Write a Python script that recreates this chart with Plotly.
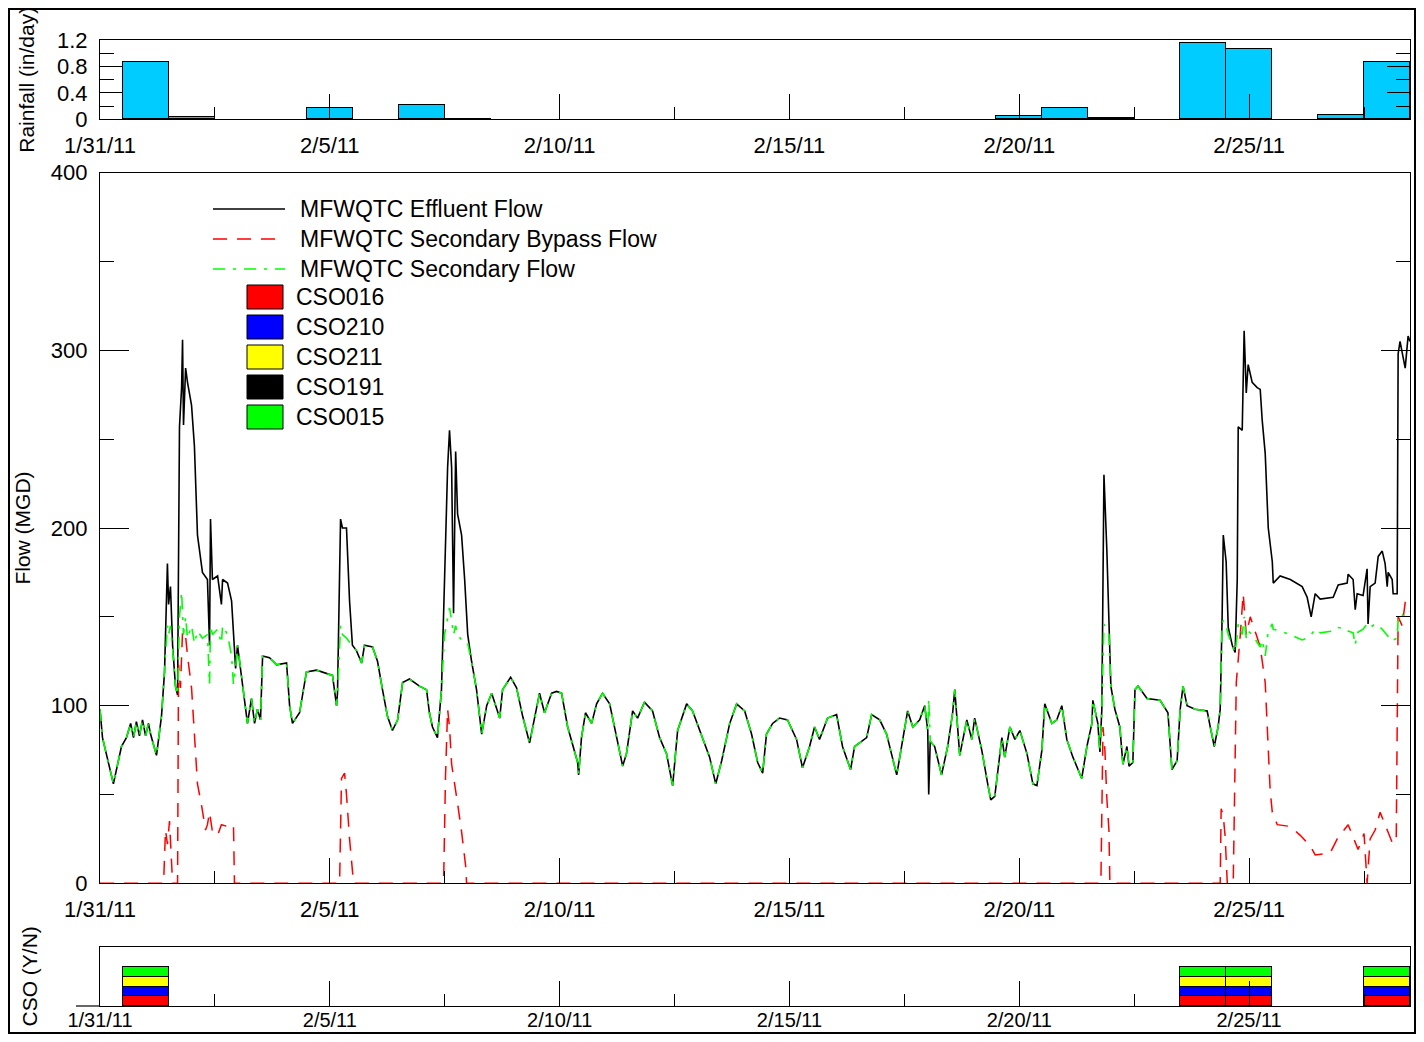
import pandas as pd
import plotly.graph_objects as go
from plotly.subplots import make_subplots

# ---------------- DATA ----------------
START = "2011-01-31 00:00"
END = "2011-02-28 12:00"

# elapsed hours since 1/31/11 00:00 for the flow records
hours = [
    0, 1.3, 7, 11.2, 13.8, 16, 17.5, 19, 20.6, 22.2,
    23.8, 25.3, 26.4, 27.4, 29.5, 32.1, 33.7, 35.2, 35.8, 36.8,
    37.9, 39.4, 40.5, 41.5, 42.6, 43.1, 43.6, 44.7, 45.7, 47.8,
    49.3, 50.9, 53.5, 56.1, 57.2, 57.7, 58.7, 61.4, 63.4, 64.0,
    66.6, 68.7, 69.7, 70.8, 71.8, 73.9, 75.5, 77.0, 79.1, 80.7,
    82.2, 83.8, 84.9, 88.5, 92.2, 97.4, 99.0, 100.5, 104.2, 107.8,
    113.1, 116.2, 121.4, 123.5, 124.0, 125.6, 126.6, 128.7, 130.3, 131.8,
    133.9, 136.6, 138.1, 142.3, 144.9, 147.5, 150.1, 152.7, 155.4, 158.0,
    161.6, 166.8, 170.5, 172.0, 173.6, 176.2, 178.3, 179.9, 181.5, 182.5,
    183.6, 184.6, 185.7, 186.7, 188.8, 190.4, 192.0, 194.0, 196.6, 199.3,
    201.9, 204.5, 208.7, 210.2, 214.4, 217.5, 220.7, 224.3, 226.9, 229.5,
    232.1, 235.8, 238.4, 241.0, 244.2, 249.4, 249.9, 251.4, 253.5, 256.7,
    259.3, 262.4, 266.1, 268.7, 272.9, 274.9, 278.1, 280.7, 284.3, 288.5,
    292.2, 295.8, 299.0, 301.6, 306.3, 309.4, 313.1, 318.3, 321.5, 324.6,
    328.8, 332.4, 336.6, 340.2, 343.4, 346.0, 348.0, 351.2, 354.8, 359.0,
    363.7, 366.8, 370.5, 373.1, 375.7, 379.9, 384.6, 387.7, 391.9, 394.0,
    400.3, 402.9, 407.1, 410.7, 416.0, 419.1, 421.7, 424.4, 428.0, 430.6,
    432.2, 432.7, 433.5, 435.8, 439.4, 442.6, 445.2, 446.3, 448.9, 452.6,
    455.2, 456.7, 460.4, 463.5, 465.1, 467.2, 468.8, 470.9, 472.4, 475.1,
    477.7, 480.3, 484.0, 487.1, 489.2, 491.8, 493.3, 497.0, 499.6, 502.2,
    504.8, 508.0, 512.6, 515.3, 517.9, 518.4, 521.0, 522.1, 523.1, 524.2,
    525.7, 526.8, 527.8, 529.9, 532.5, 534.1, 536.2, 537.3, 539.3, 540.4,
    542.0, 546.7, 553.5, 557.6, 559.7, 562.4, 564.0, 565.5, 567.6, 571.8,
    578.1, 579.7, 581.8, 583.8, 584.9, 585.9, 586.5, 588.0, 589.1, 591.2,
    592.7, 593.8, 594.3, 596.4, 596.9, 597.4, 598.5, 599.5, 601.6, 604.2,
    605.8, 606.8, 608.4, 610.0, 612.1, 612.6, 616.2, 621.5, 627.7, 630.3,
    632.4, 634.5, 637.1, 643.9, 646.5, 651.2, 651.7, 654.3, 655.4, 656.4,
    659.5, 661.6, 662.1, 663.2, 665.8, 667.4, 669.5, 671.0, 672.1, 672.6,
    674.7, 675.2, 677.3, 677.8, 678.8, 681.5, 683.0, 684.0,
]

effluent_flow = [
    98, 82, 56, 77, 82, 90, 82, 91, 83, 92,
    83, 90, 84, 80, 72, 94, 119, 180, 157, 167,
    134, 111, 106, 257, 279, 306, 258, 290, 282, 269,
    246, 196, 175, 171, 134, 205, 171, 173, 157, 171,
    169, 159, 138, 121, 134, 117, 103, 90, 104, 90,
    98, 92, 128, 127, 123, 124, 100, 90, 96, 119,
    120, 119, 117, 100, 107, 205, 200, 200, 159, 134,
    131, 124, 134, 133, 125, 109, 94, 86, 92, 113,
    115, 111, 109, 96, 88, 82, 109, 171, 234, 255,
    234, 152, 243, 208, 196, 171, 140, 125, 109, 84,
    100, 107, 93, 109, 116, 110, 94, 79, 92, 107,
    96, 107, 108, 107, 88, 68, 61, 82, 96, 90,
    101, 107, 101, 88, 66, 73, 97, 93, 102, 97,
    82, 73, 55, 86, 101, 97, 86, 71, 56, 69,
    90, 101, 97, 84, 68, 62, 84, 90, 93, 92,
    81, 65, 77, 88, 81, 93, 95, 77, 64, 77,
    82, 95, 92, 84, 61, 81, 97, 88, 92, 100,
    86, 50, 80, 77, 61, 77, 96, 109, 72, 92,
    81, 93, 75, 56, 47, 49, 62, 82, 71, 88,
    81, 86, 73, 56, 55, 75, 101, 90, 92, 100,
    81, 71, 59, 77, 90, 103, 90, 74, 98, 230,
    188, 154, 111, 98, 88, 67, 77, 66, 68, 109,
    111, 104, 103, 96, 64, 69, 98, 111, 100, 98,
    97, 88, 77, 88, 98, 150, 196, 181, 144, 134,
    130, 171, 257, 255, 276, 311, 276, 292, 282, 279,
    278, 261, 242, 200, 181, 169, 173, 171, 167, 161,
    150, 163, 160, 161, 168, 169, 174, 171, 154, 163,
    162, 177, 146, 167, 169, 184, 187, 180, 167, 175,
    171, 163, 163, 298, 305, 290, 308, 305,
]

secondary_flow = [
    98, 82, 56, 77, 82, 90, 82, 91, 83, 92,
    83, 90, 84, 80, 72, 94, 119, 145, 140, 145,
    132, 111, 106, 150, 164, 148, 140, 150, 138, 145,
    135, 142, 138, 140, 112, 145, 140, 143, 135, 145,
    140, 128, 112, 121, 134, 117, 103, 90, 104, 90,
    98, 92, 128, 127, 123, 124, 100, 90, 96, 119,
    120, 119, 117, 100, 107, 145, 140, 138, 136, 134,
    131, 124, 134, 133, 125, 109, 94, 86, 92, 113,
    115, 111, 109, 96, 88, 82, 109, 140, 150, 155,
    148, 140, 145, 140, 137, 135, 135, 125, 109, 84,
    100, 107, 93, 109, 116, 110, 94, 79, 92, 107,
    96, 107, 108, 107, 88, 68, 61, 82, 96, 90,
    101, 107, 101, 88, 66, 73, 97, 93, 102, 97,
    82, 73, 55, 86, 101, 97, 86, 71, 56, 69,
    90, 101, 97, 84, 68, 62, 84, 90, 93, 92,
    81, 65, 77, 88, 81, 93, 95, 77, 64, 77,
    82, 95, 92, 84, 61, 81, 97, 88, 92, 100,
    86, 104, 80, 77, 61, 77, 96, 109, 72, 92,
    81, 93, 75, 56, 47, 49, 62, 82, 71, 88,
    81, 86, 73, 56, 55, 75, 101, 90, 92, 100,
    81, 71, 59, 77, 90, 103, 90, 74, 98, 146,
    142, 140, 111, 98, 88, 67, 77, 66, 68, 109,
    111, 104, 103, 96, 64, 69, 98, 111, 100, 98,
    97, 88, 77, 88, 98, 146, 148, 145, 140, 134,
    130, 140, 146, 140, 144, 150, 138, 142, 140, 136,
    133, 137, 128, 142, 146, 143, 142, 140, 137, 138,
    140, 143, 141, 142, 144, 143, 142, 141, 134, 141,
    143, 146, 145, 144, 146, 145, 143, 141, 140, 139,
    139, 137, 138, 148, 152, 150, 152, 153,
]

bypass_hours = [
    0, 33.2, 34.2, 35.2, 36.3, 37.3, 37.9, 40.5, 41.0, 42.0,
    43.1, 44.7, 45.7, 47.8, 49.3, 50.9, 53.0, 55.1, 56.1, 57.2,
    58.7, 61.4, 63.4, 66.6, 69.7, 70.2, 125.1, 126.1, 127.7, 128.7,
    130.3, 132.4, 179.4, 180.4, 181.5, 182.5, 183.6, 185.1, 186.7, 188.8,
    190.9, 191.4, 522.6, 523.7, 524.7, 525.7, 526.8, 527.3, 584.9, 585.4,
    586.5, 587.5, 588.6, 591.7, 593.3, 595.4, 596.9, 598.5, 600.6, 603.7,
    605.8, 608.4, 609.5, 611.0, 612.1, 614.7, 621.5, 626.7, 631.9, 634.5,
    642.3, 646.0, 651.7, 653.8, 656.9, 660.0, 661.6, 663.2, 665.8, 668.4,
    671.0, 674.7, 676.8, 677.8, 679.9, 681.5, 684.0,
]

bypass_flow = [
    0, 0, 30, 22, 35, 10, 0, 0, 123, 110,
    142, 139, 128, 110, 84, 56, 44, 30, 33, 40,
    29, 27, 33, 32, 33, 0, 0, 59, 62, 50,
    25, 0, 0, 60, 98, 88, 67, 55, 45, 29,
    10, 0, 0, 88, 75, 48, 30, 0, 0, 42,
    38, 26, 0, 0, 113, 140, 163, 140, 150, 140,
    133, 113, 88, 52, 40, 33, 32, 27, 21, 16,
    17, 25, 33, 27, 19, 28, 0, 25, 30, 40,
    33, 23, 23, 150, 145, 158, 157,
]

rain_dates = ["2011-02-01", "2011-02-02", "2011-02-05", "2011-02-07", "2011-02-08",
              "2011-02-20", "2011-02-21", "2011-02-22", "2011-02-24", "2011-02-25",
              "2011-02-27", "2011-02-28"]
rain_in_per_day = [0.86, 0.025, 0.17, 0.215, 0.006,
                   0.046, 0.168, 0.012, 1.15, 1.07,
                   0.06, 0.864]

cso_dates = ["2011-02-01", "2011-02-24", "2011-02-25", "2011-02-28"]
cso016 = [1, 1, 1, 1]
cso210 = [1, 1, 1, 1]
cso211 = [1, 1, 1, 1]
cso191 = [0, 0, 0, 0]
cso015 = [1, 1, 1, 1]

line_names = ["MFWQTC Effluent Flow", "MFWQTC Secondary Bypass Flow", "MFWQTC Secondary Flow"]
cso_names = ["CSO016", "CSO210", "CSO211", "CSO191", "CSO015"]
cso_colors = ["#FF0000", "#0000FF", "#FFFF00", "#000000", "#00FF00"]

date_ticks_fmt = "%-m/%-d/%y"

# ---------------- STYLE / LAYOUT ----------------
FONT = "Liberation Sans, Arial, sans-serif"
BODY = 8                      # default page margin around the plot div
W, H = 1424 - 2 * BODY, 1042 - 2 * BODY
ML, MR, MT, MB = 92, 6, 32, 28
PW, PH = W - ML - MR, H - MT - MB


def px(xs):
    """screen x (page px) -> paper x"""
    return (xs - BODY - ML) / PW


def py(ys):
    """screen y (page px) -> paper y"""
    return (H - MB - (ys - BODY)) / PH


line_colors = ["#000000", "#FF0000", "#00FF00"]
line_dashes = ["solid", "14px,10px", "12px,8px,3px,8px"]

t0 = pd.Timestamp(START)
t_flow = t0 + pd.to_timedelta(hours, unit="h")
t_bypass = t0 + pd.to_timedelta(bypass_hours, unit="h")
DAY_MS = 86400000

fig = make_subplots(rows=3, cols=1, shared_xaxes=False, vertical_spacing=0.0)

# rainfall
fig.add_trace(go.Bar(x=rain_dates, y=rain_in_per_day, width=DAY_MS,
                     marker=dict(color="#00CCFF", line=dict(color="#000000", width=1)),
                     showlegend=False, name="Rainfall"), row=1, col=1)

# flows
fig.add_trace(go.Scatter(x=t_flow, y=effluent_flow, mode="lines", name=line_names[0],
                         line=dict(color=line_colors[0], width=1.6), showlegend=False), row=2, col=1)
fig.add_trace(go.Scatter(x=t_bypass, y=bypass_flow, mode="lines", name=line_names[1],
                         line=dict(color=line_colors[1], width=1.5, dash=line_dashes[1]),
                         showlegend=False), row=2, col=1)
fig.add_trace(go.Scatter(x=t_flow, y=secondary_flow, mode="lines", name=line_names[2],
                         line=dict(color=line_colors[2], width=1.6, dash=line_dashes[2]),
                         showlegend=False), row=2, col=1)

# CSO stacked
for name, vals, col in zip(cso_names, [cso016, cso210, cso211, cso191, cso015], cso_colors):
    fig.add_trace(go.Bar(x=cso_dates, y=vals, width=DAY_MS, name=name,
                         marker=dict(color=col, line=dict(color="#000000", width=1)),
                         showlegend=False), row=3, col=1)

fig.update_layout(barmode="stack", bargap=0)

tickfont = dict(family=FONT, size=22, color="#000000")
titlefont = dict(family=FONT, size=21, color="#000000")


def xaxis_style(font_size, standoff):
    return dict(type="date", range=[START, END], tickformat=date_ticks_fmt,
                tick0="2011-01-31", dtick=5 * DAY_MS, ticks="inside", ticklen=25,
                tickcolor="#000000", tickwidth=1, showline=True, linecolor="#000000",
                linewidth=1.2, mirror=True, showgrid=False, zeroline=False,
                tickfont=dict(family=FONT, size=font_size, color="#000000"),
                ticklabelstandoff=standoff, automargin=False, domain=[0, 1],
                minor=dict(dtick=DAY_MS * 2.5, tick0="2011-01-31", ticks="inside",
                           ticklen=12, tickcolor="#000000", showgrid=False))


fig.update_layout(
    width=W, height=H, margin=dict(l=ML, r=MR, t=MT, b=MB, autoexpand=False),
    paper_bgcolor="white", plot_bgcolor="white",
    font=dict(family=FONT, size=21, color="#000000"),
    xaxis=xaxis_style(22, 6),
    xaxis2=xaxis_style(22, 6),
    xaxis3=xaxis_style(20, -4),
    yaxis=dict(domain=[py(119.3), py(40.3)], range=[0, 1.2], dtick=0.4, tick0=0,
               ticks="inside", ticklen=23, tickcolor="#000000", showline=True,
               linecolor="#000000", linewidth=1.2, mirror="ticks", showgrid=False,
               zeroline=False, tickfont=tickfont, ticklabelstandoff=7, automargin=False,
               minor=dict(dtick=0.2, ticks="inside", ticklen=14, tickcolor="#000000"),
               title=dict(text="Rainfall (in/day)", font=titlefont, standoff=16)),
    yaxis2=dict(domain=[py(883.3), py(172.7)], range=[0, 400], dtick=100, tick0=0,
                ticks="inside", ticklen=29, tickcolor="#000000", showline=True,
                linecolor="#000000", linewidth=1.2, mirror="ticks", showgrid=False,
                zeroline=False, tickfont=tickfont, ticklabelstandoff=7, automargin=False,
                minor=dict(dtick=50, ticks="inside", ticklen=14, tickcolor="#000000"),
                title=dict(text="Flow (MGD)", font=titlefont, standoff=14)),
    yaxis3=dict(domain=[py(1006), py(946.7)], range=[0, 6], showticklabels=False, ticks="",
                showline=True, linecolor="#000000", linewidth=1.2, mirror=True,
                showgrid=False, zeroline=False, automargin=False,
                title=dict(text="CSO (Y/N)", font=titlefont, standoff=55)),
)

shapes = []
annotations = []
# outer frame
shapes.append(dict(type="rect", xref="paper", yref="paper", x0=px(9), x1=px(1415),
                   y0=py(1033), y1=py(9), line=dict(color="#000000", width=2)))
# CSO baseline extension to the left
shapes.append(dict(type="line", xref="paper", yref="paper", x0=px(76), x1=0,
                   y0=0, y1=0, line=dict(color="#000000", width=1.2)))

# custom legend inside main panel
leg_font = dict(family=FONT, size=23, color="#000000")
for i, (nm, colr, dsh) in enumerate(zip(line_names, line_colors, line_dashes)):
    yc = 209 + 30 * i
    shapes.append(dict(type="line", xref="paper", yref="paper", x0=px(213), x1=px(285),
                       y0=py(yc), y1=py(yc), line=dict(color=colr, width=1.5, dash=dsh)))
    annotations.append(dict(xref="paper", yref="paper", x=px(298), y=py(yc), text=nm,
                            showarrow=False, xanchor="left", yanchor="middle", font=leg_font))
for i, (nm, colr) in enumerate(zip(cso_names, cso_colors)):
    yc = 297 + 30 * i
    shapes.append(dict(type="rect", xref="paper", yref="paper", x0=px(247), x1=px(283),
                       y0=py(yc + 12), y1=py(yc - 12), fillcolor=colr,
                       line=dict(color="#000000", width=1)))
    annotations.append(dict(xref="paper", yref="paper", x=px(294), y=py(yc), text=nm,
                            showarrow=False, xanchor="left", yanchor="middle", font=leg_font))

fig.update_layout(shapes=shapes, annotations=annotations)

fig.write_html("out.html")
